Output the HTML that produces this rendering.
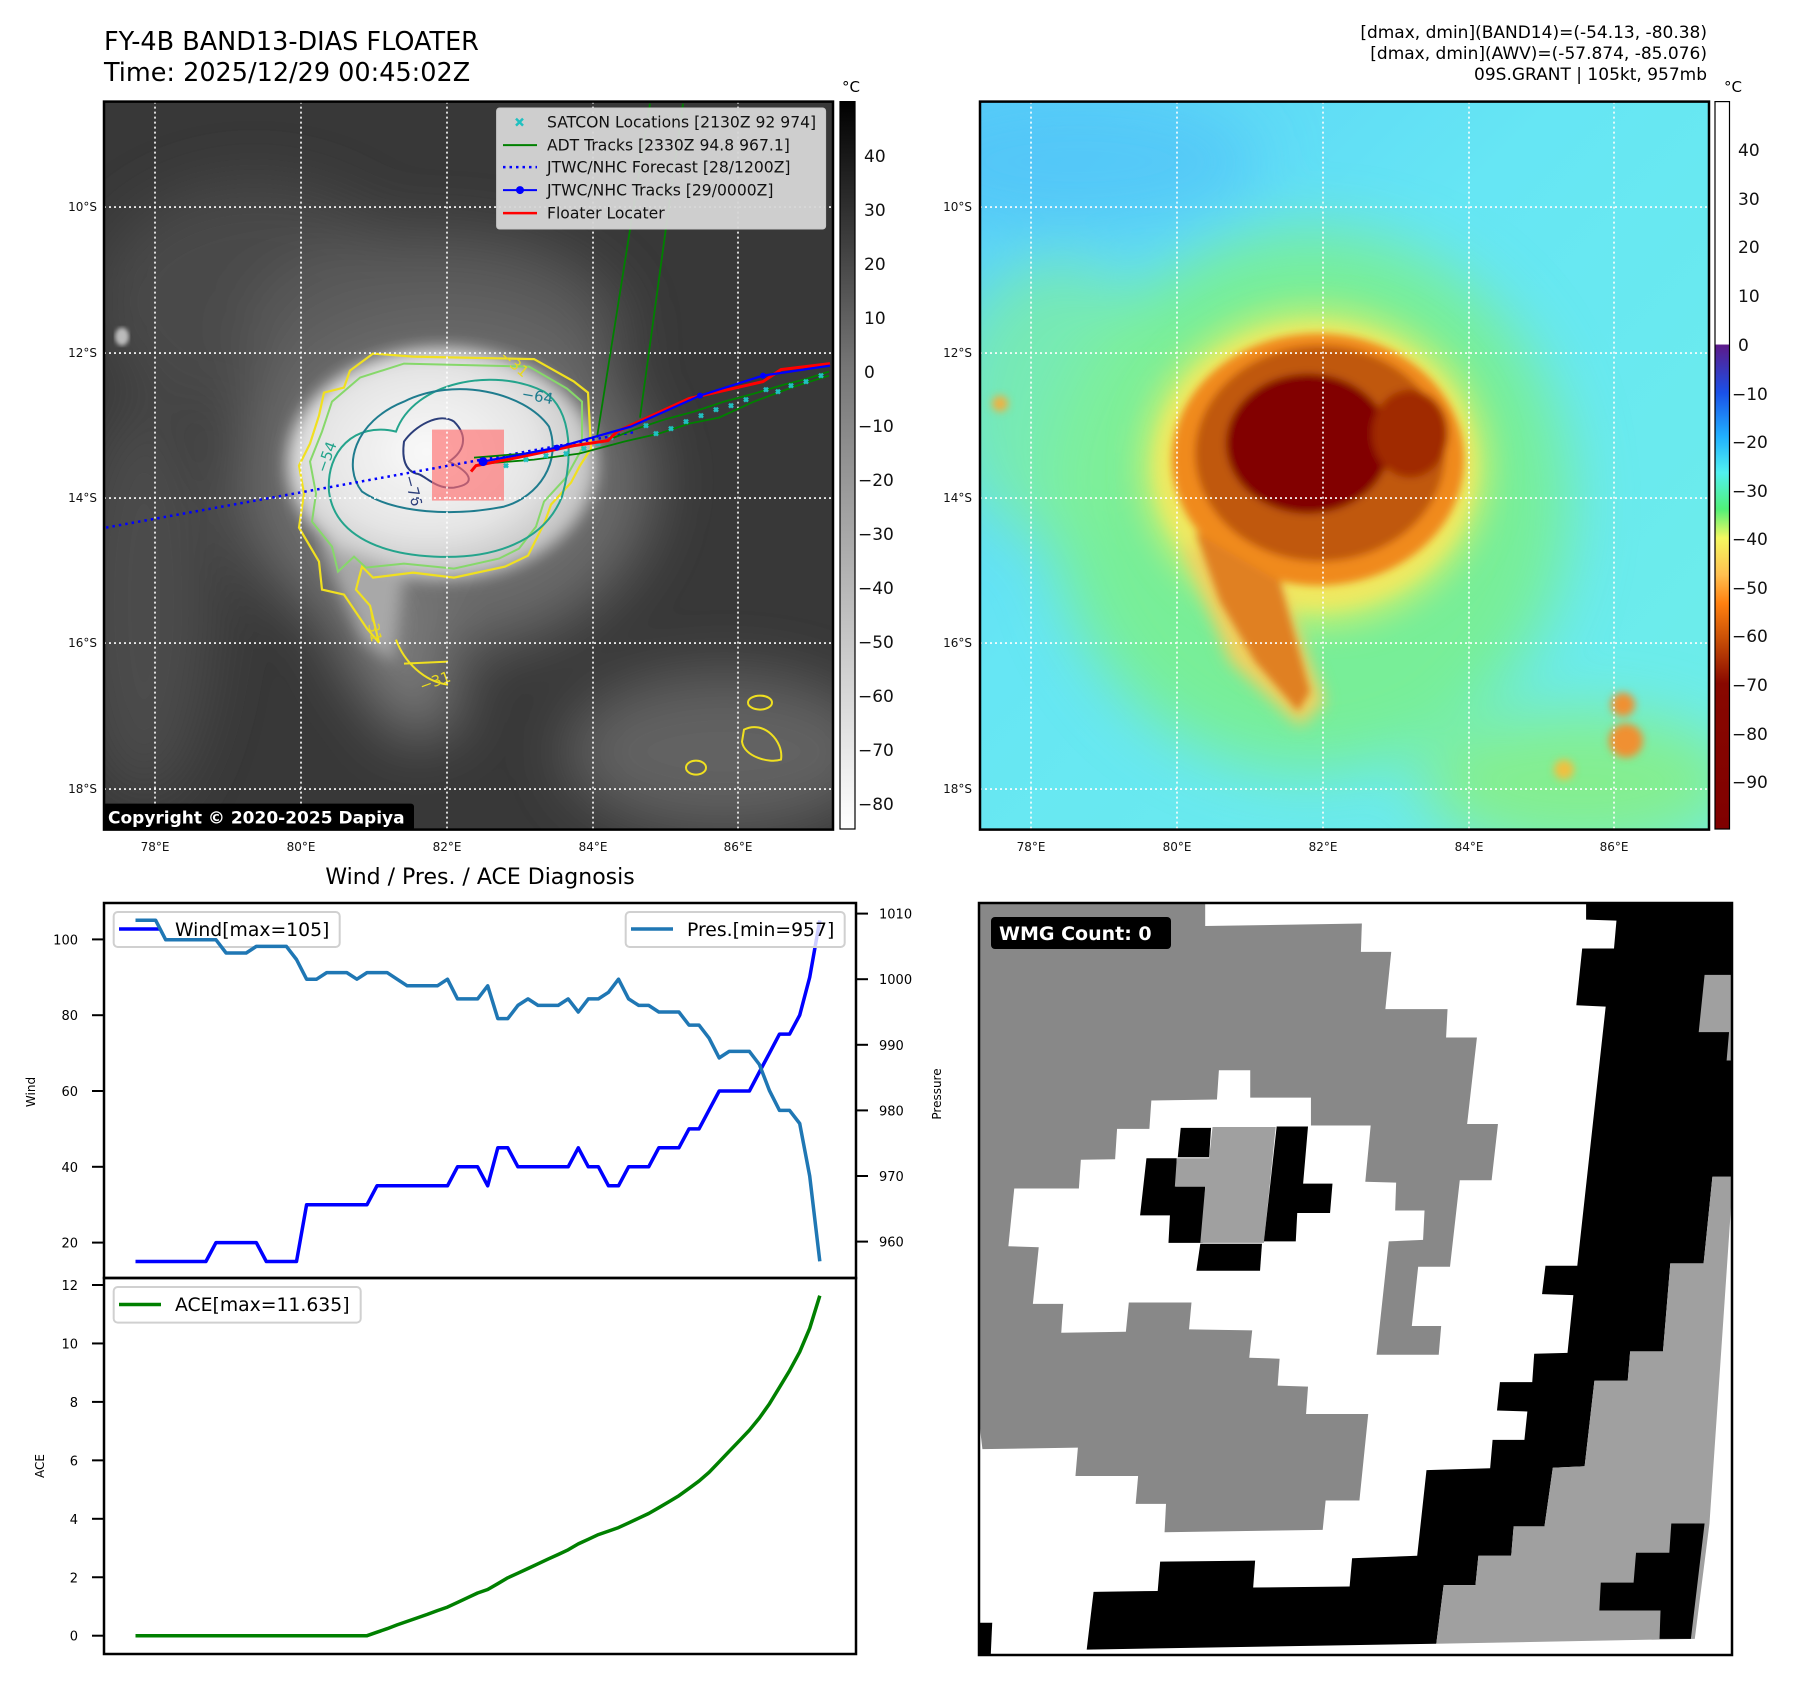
<!DOCTYPE html>
<html><head><meta charset="utf-8">
<style>
html,body{margin:0;padding:0;background:#fff;}
body{width:1797px;height:1690px;position:relative;overflow:hidden;font-family:"DejaVu Sans","Liberation Sans",sans-serif;}
svg{position:absolute;left:0;top:0;}
</style></head>
<body>
<svg id="main" width="1797" height="1690" viewBox="0 0 1797 1690" xmlns="http://www.w3.org/2000/svg" font-family="DejaVu Sans, Liberation Sans, sans-serif">
<defs>
  <filter id="b2"><feGaussianBlur stdDeviation="2"/></filter>
  <filter id="b4"><feGaussianBlur stdDeviation="4"/></filter>
  <filter id="b8"><feGaussianBlur stdDeviation="8"/></filter>
  <filter id="b16"><feGaussianBlur stdDeviation="16"/></filter>
  <filter id="b30"><feGaussianBlur stdDeviation="30"/></filter>
  <clipPath id="mapclip"><rect x="0" y="0" width="729" height="728"/></clipPath>
  <linearGradient id="graybar" x1="0" y1="0" x2="0" y2="1">
    <stop offset="0" stop-color="#000"/><stop offset="0.37" stop-color="#777"/><stop offset="1" stop-color="#fff"/>
  </linearGradient>
  <linearGradient id="colbar" x1="0" y1="0" x2="0" y2="1">
    <stop offset="0" stop-color="#fff"/><stop offset="0.333" stop-color="#fff"/>
    <stop offset="0.335" stop-color="#5c1a8a"/><stop offset="0.4" stop-color="#1a50e8"/>
    <stop offset="0.46" stop-color="#20b0ff"/><stop offset="0.51" stop-color="#50f0f0"/>
    <stop offset="0.56" stop-color="#50f078"/><stop offset="0.6" stop-color="#f4f860"/>
    <stop offset="0.65" stop-color="#ffc050"/><stop offset="0.69" stop-color="#ff8010"/>
    <stop offset="0.74" stop-color="#c84e06"/><stop offset="0.8" stop-color="#880800"/>
    <stop offset="1" stop-color="#800000"/>
  </linearGradient>
  <radialGradient id="irCore" cx="0.45" cy="0.45" r="0.6">
    <stop offset="0" stop-color="#fafafa"/><stop offset="0.6" stop-color="#e4e4e4"/><stop offset="1" stop-color="#b8b8b8"/>
  </radialGradient>
  <linearGradient id="rbg" x1="0" y1="0" x2="1" y2="1">
    <stop offset="0" stop-color="#58d0f8"/><stop offset="0.4" stop-color="#66e6f4"/><stop offset="1" stop-color="#6eeee8"/>
  </linearGradient>
</defs>

<!-- Titles -->
<text x="104" y="50" font-size="25.5">FY-4B BAND13-DIAS FLOATER</text>
<text x="104" y="81" font-size="25.5">Time: 2025/12/29 00:45:02Z</text>
<g font-size="17" text-anchor="end">
  <text x="1707" y="38">[dmax, dmin](BAND14)=(-54.13, -80.38)</text>
  <text x="1707" y="59">[dmax, dmin](AWV)=(-57.874, -85.076)</text>
  <text x="1707" y="80">09S.GRANT | 105kt, 957mb</text>
</g>

<!-- LEFT IR MAP -->
<g transform="translate(104,101.6)">
 <g clip-path="url(#mapclip)">
  <rect width="729" height="728" fill="#383838"/>
  <g filter="url(#b30)">
    <ellipse cx="150" cy="200" rx="160" ry="120" fill="#4a4a4a"/>
    <ellipse cx="620" cy="650" rx="160" ry="80" fill="#626262"/>
    <ellipse cx="40" cy="500" rx="70" ry="200" fill="#4c4c4c"/>
    <ellipse cx="330" cy="230" rx="190" ry="100" fill="#5a5a5a"/>
    <ellipse cx="340" cy="380" rx="210" ry="170" fill="#6a6a6a"/>
    <polygon points="220,450 320,470 360,620 300,640 240,560" fill="#7a7a7a"/>
  </g>
  <g filter="url(#b8)">
    <ellipse cx="338" cy="362" rx="155" ry="116" fill="url(#irCore)"/>
    <polygon points="215,440 300,470 290,560 260,540" fill="#a8a8a8"/>
  </g>
  <ellipse cx="18" cy="235" rx="7" ry="9" fill="#bbb" filter="url(#b2)"/>
  <!-- contours -->
  <path d="M246,269 L269,252 L309,255 L430,257.5 L470,280 L484,291 L487,347 L476,364 L467,381 L447,403 L441,420 L424,454 L401,465 L350,476 L309,471 L269,476 L258,465 L252,488 L266,504 L275,541 L263,527 L240,493 L218,488 L215,460 L195,426 L200,392 L195,364 L206,342 L215,314 L220,291 L240,286 Z" fill="none" stroke="#f0e020" stroke-width="2.2"/>
  <path d="M256,276 L300,262 L425,265 L463,287 L478,300 L478,347 L462,376 L440,400 L432,425 L415,447 L395,457 L350,467 L300,462 L262,466 L250,455 L234,470 L228,445 L208,420 L212,392 L206,360 L218,330 L228,300 Z" fill="none" stroke="#86d86a" stroke-width="2"/>
  <path d="M292,330 C310,280 390,265 440,290 C470,310 468,360 458,395 C440,440 390,458 330,455 C270,452 230,430 225,390 C222,350 250,320 292,330 Z" fill="none" stroke="#24a48c" stroke-width="2"/>
  <path d="M300,300 C350,275 420,290 445,325 C458,360 435,395 400,405 C350,415 290,412 258,390 C238,365 250,320 300,300 Z" fill="none" stroke="#1f7c8e" stroke-width="2"/>
  <path d="M300,340 C310,325 335,310 350,320 C365,335 360,350 345,360 C365,370 375,382 350,386 C330,388 320,372 312,372 C300,368 298,355 300,340 Z" fill="none" stroke="#2c3e7a" stroke-width="2"/>
  <path d="M292,538 C300,560 320,580 344,583 M344,560 L300,562" fill="none" stroke="#f0e020" stroke-width="2"/>
  <ellipse cx="656" cy="601" rx="12" ry="7" fill="none" stroke="#f0e020" stroke-width="2"/>
  <path d="M640,628 C660,618 680,640 677,658 C665,662 640,655 638,640 Z" fill="none" stroke="#f0e020" stroke-width="2"/>
  <ellipse cx="592" cy="666" rx="10" ry="7" fill="none" stroke="#f0e020" stroke-width="2"/>
  <g font-size="15" fill="#e8d820"><text x="395" y="256" transform="rotate(40 395 256)">−31</text><text x="262" y="510" transform="rotate(80 262 510)">−31</text><text x="318" y="590" transform="rotate(-20 318 590)">−31</text></g>
  <text x="417" y="297" font-size="15" fill="#1f7c8e" transform="rotate(10 417 297)">−64</text>
  <text x="300" y="375" font-size="15" fill="#2c3e7a" transform="rotate(75 300 375)">−76</text>
  <text x="222" y="372" font-size="15" fill="#24a48c" transform="rotate(-70 222 372)">−54</text>
  <rect x="328" y="328" width="72" height="71" fill="rgba(255,110,110,0.65)"/>
  <g stroke="#fff" stroke-width="1.6" stroke-dasharray="2,3">
    <line x1="51" y1="0" x2="51" y2="728"/><line x1="197" y1="0" x2="197" y2="728"/><line x1="343" y1="0" x2="343" y2="728"/><line x1="489" y1="0" x2="489" y2="728"/><line x1="634" y1="0" x2="634" y2="728"/>
    <line x1="0" y1="105.5" x2="729" y2="105.5"/><line x1="0" y1="251.5" x2="729" y2="251.5"/><line x1="0" y1="396.5" x2="729" y2="396.5"/><line x1="0" y1="541.5" x2="729" y2="541.5"/><line x1="0" y1="687.5" x2="729" y2="687.5"/>
  </g>
  <polyline points="2,426 533,330" fill="none" stroke="#0000ff" stroke-width="2.5" stroke-dasharray="2.5,4"/>
  <g stroke="#008000" stroke-width="1.8" fill="none">
    <line x1="493" y1="336" x2="546" y2="2"/><line x1="536" y1="316" x2="579" y2="2"/>
    <polyline points="370,356 420,352 460,345 500,340 530,328 560,318 590,310 620,300 650,292 680,283 700,278 725,270"/>
    <polyline points="380,362 430,358 475,352 520,340 555,332 585,322 615,316 650,300 690,285 725,274"/>
  </g>
  <g stroke="#20c0c0" stroke-width="2.5">
    <path d="M400,362 l4,4 m0,-4 l-4,4 M420,356 l4,4 m0,-4 l-4,4 M440,352 l4,4 m0,-4 l-4,4 M460,350 l4,4 m0,-4 l-4,4 M478,345 l4,4 m0,-4 l-4,4 M492,340 l4,4 m0,-4 l-4,4 M505,334 l4,4 m0,-4 l-4,4 M540,322 l4,4 m0,-4 l-4,4 M550,330 l4,4 m0,-4 l-4,4 M565,325 l4,4 m0,-4 l-4,4 M580,318 l4,4 m0,-4 l-4,4 M595,312 l4,4 m0,-4 l-4,4 M610,306 l4,4 m0,-4 l-4,4 M625,302 l4,4 m0,-4 l-4,4 M640,296 l4,4 m0,-4 l-4,4 M660,286 l4,4 m0,-4 l-4,4 M672,288 l4,4 m0,-4 l-4,4 M685,282 l4,4 m0,-4 l-4,4 M700,278 l4,4 m0,-4 l-4,4 M715,272 l4,4 m0,-4 l-4,4"/>
  </g>
  <polyline points="367,370 372,364 413,356 470,344 504,339 513,330 585,297 659,280 677,268 726,262" fill="none" stroke="#ff0000" stroke-width="3"/>
  <polyline points="379,360 453,346 527,325 596,294 659,274 726,264" fill="none" stroke="#0000ff" stroke-width="2.2"/>
  <g fill="#0000ff"><circle cx="379" cy="360" r="4.5"/><circle cx="453" cy="346" r="3"/><circle cx="596" cy="294" r="3"/><circle cx="659" cy="274" r="3"/></g>
  <rect x="-2" y="702" width="312" height="27" rx="3" fill="#000"/>
  <text x="4" y="722" font-size="17" font-weight="bold" fill="#fff">Copyright © 2020-2025 Dapiya</text>
 </g>
 <rect width="729" height="728" fill="none" stroke="#000" stroke-width="2.5"/>
 <g>
  <rect x="392.6" y="6.4" width="329" height="121" rx="3" fill="#d6d6d6" fill-opacity="0.95" stroke="#c8c8c8"/>
  <g font-size="15.6" fill="#111">
   <path d="M412,17 l7,7 m0,-7 l-7,7" stroke="#20c0c0" stroke-width="2.5"/>
   <text x="443" y="26">SATCON Locations [2130Z 92 974]</text>
   <line x1="399" y1="43.5" x2="433" y2="43.5" stroke="#008000" stroke-width="2"/>
   <text x="443" y="49">ADT Tracks [2330Z 94.8 967.1]</text>
   <line x1="399" y1="65.5" x2="433" y2="65.5" stroke="#0000ff" stroke-width="2.5" stroke-dasharray="2.5,4"/>
   <text x="443" y="71">JTWC/NHC Forecast [28/1200Z]</text>
   <line x1="399" y1="88.5" x2="433" y2="88.5" stroke="#0000ff" stroke-width="2"/><circle cx="416" cy="88.5" r="4" fill="#0000ff"/>
   <text x="443" y="94">JTWC/NHC Tracks [29/0000Z]</text>
   <line x1="399" y1="111.5" x2="433" y2="111.5" stroke="#ff0000" stroke-width="2.5"/>
   <text x="443" y="117">Floater Locater</text>
  </g>
 </g>
</g>
<g font-size="12" fill="#111">
  <g text-anchor="end"><text x="97" y="211">10°S</text><text x="97" y="357">12°S</text><text x="97" y="502">14°S</text><text x="97" y="647">16°S</text><text x="97" y="793">18°S</text></g>
  <g text-anchor="middle"><text x="155" y="851">78°E</text><text x="301" y="851">80°E</text><text x="447" y="851">82°E</text><text x="593" y="851">84°E</text><text x="738" y="851">86°E</text></g>
</g>
<g>
  <rect x="840" y="101.6" width="15" height="727.4" fill="url(#graybar)" stroke="#000" stroke-width="1.2"/>
  <text x="851" y="92" font-size="15" text-anchor="middle">°C</text>
  <g font-size="17" fill="#111">
   <text x="864" y="162">40</text><text x="864" y="216">30</text><text x="864" y="270">20</text><text x="864" y="324">10</text><text x="864" y="378">0</text>
   <text x="858" y="432">−10</text><text x="858" y="486">−20</text><text x="858" y="540">−30</text><text x="858" y="594">−40</text><text x="858" y="648">−50</text><text x="858" y="702">−60</text><text x="858" y="756">−70</text><text x="858" y="810">−80</text>
  </g>
</g>

<!-- RIGHT COLOR MAP -->
<g transform="translate(980,101.6)">
 <g clip-path="url(#mapclip)">
  <rect width="729" height="728" fill="url(#rbg)"/>
  <g filter="url(#b30)">
    <ellipse cx="100" cy="60" rx="180" ry="70" fill="#50c0f8" opacity="0.6"/>
    <ellipse cx="330" cy="400" rx="260" ry="270" fill="#78ee98"/>
    <ellipse cx="80" cy="300" rx="110" ry="140" fill="#80f098" opacity="0.7"/>
    <ellipse cx="600" cy="680" rx="160" ry="70" fill="#84ee90"/>
  </g>
  <g filter="url(#b16)">
    <ellipse cx="335" cy="365" rx="175" ry="160" fill="#c8f070"/>
  </g>
  <g filter="url(#b8)">
    <ellipse cx="335" cy="365" rx="160" ry="142" fill="#f0e860"/>
    <polygon points="200,440 300,480 345,600 320,625 250,560" fill="#f0d060"/>
  </g>
  <g filter="url(#b4)">
    <ellipse cx="338" cy="358" rx="146" ry="126" fill="#f08a1a"/>
    <polygon points="215,430 300,480 330,590 318,610 275,560 240,500" fill="#e08020"/>
    <ellipse cx="340" cy="352" rx="125" ry="108" fill="#c05808"/>
    <ellipse cx="328" cy="342" rx="82" ry="70" fill="#820400"/>
    <ellipse cx="430" cy="332" rx="38" ry="44" fill="#a02a04"/>
    <circle cx="643" cy="603" r="12" fill="#f09030"/><circle cx="646" cy="639" r="17" fill="#f09030"/>
    <circle cx="20" cy="302" r="8" fill="#f0b040"/>
    <circle cx="584" cy="668" r="10" fill="#f0c040"/>
  </g>
  <g stroke="#fff" stroke-width="1.6" stroke-dasharray="2,3">
    <line x1="51" y1="0" x2="51" y2="728"/><line x1="197" y1="0" x2="197" y2="728"/><line x1="343" y1="0" x2="343" y2="728"/><line x1="489" y1="0" x2="489" y2="728"/><line x1="634" y1="0" x2="634" y2="728"/>
    <line x1="0" y1="105.5" x2="729" y2="105.5"/><line x1="0" y1="251.5" x2="729" y2="251.5"/><line x1="0" y1="396.5" x2="729" y2="396.5"/><line x1="0" y1="541.5" x2="729" y2="541.5"/><line x1="0" y1="687.5" x2="729" y2="687.5"/>
  </g>
 </g>
 <rect width="729" height="728" fill="none" stroke="#000" stroke-width="2.5"/>
</g>
<g font-size="12" fill="#111">
  <g text-anchor="end"><text x="972" y="211">10°S</text><text x="972" y="357">12°S</text><text x="972" y="502">14°S</text><text x="972" y="647">16°S</text><text x="972" y="793">18°S</text></g>
  <g text-anchor="middle"><text x="1031" y="851">78°E</text><text x="1177" y="851">80°E</text><text x="1323" y="851">82°E</text><text x="1469" y="851">84°E</text><text x="1614" y="851">86°E</text></g>
</g>
<g>
  <rect x="1715" y="101.6" width="14.5" height="727.4" fill="url(#colbar)" stroke="#000" stroke-width="1.2"/>
  <text x="1733" y="92" font-size="15" text-anchor="middle">°C</text>
  <g font-size="17" fill="#111">
   <text x="1738" y="156">40</text><text x="1738" y="205">30</text><text x="1738" y="253">20</text><text x="1738" y="302">10</text><text x="1738" y="351">0</text>
   <text x="1732" y="400">−10</text><text x="1732" y="448">−20</text><text x="1732" y="497">−30</text><text x="1732" y="545">−40</text><text x="1732" y="594">−50</text><text x="1732" y="642">−60</text><text x="1732" y="691">−70</text><text x="1732" y="740">−80</text><text x="1732" y="788">−90</text>
  </g>
</g>

<!-- WMG PANEL -->
<g>
 <svg x="979" y="903" width="753" height="752" viewBox="8 8 1538 1538" preserveAspectRatio="none">
  <rect x="8" y="8" width="1538" height="1538" fill="#fff"/>
  <polygon fill="#888" points="8,8 470,8 470,55 790,50 788,108 850,108 838,225 965,225 962,283 1025,283 1005,460 1068,460 1055,575 990,575 970,752 905,752 892,873 952,873 947,932 820,932 845,700 915,697 918,637 858,637 860,580 797,578 808,463 686,463 686,406 562,406 562,350 498,350 494,410 360,412 356,470 290,470 286,532 216,533 212,592 80,592 68,710 130,712 118,828 180,828 176,887 308,885 314,825 442,825 437,880 566,882 560,938 622,940 618,995 680,997 676,1053 803,1053 785,1230 716,1230 710,1290 387,1295 390,1237 328,1237 333,1180 205,1180 210,1122 15,1125 8,1066"/>
  <polygon fill="#000" points="1248,8 1546,8 1546,568 1506,568 1488,745 1420,745 1405,925 1338,925 1333,985 1265,985 1245,1160 1180,1163 1163,1283 1100,1283 1095,1343 1028,1343 1022,1403 957,1403 942,1523 228,1535 242,1417 373,1415 378,1355 572,1353 568,1408 765,1406 770,1348 903,1343 922,1168 1052,1164 1057,1106 1122,1106 1128,1048 1066,1046 1072,988 1138,988 1142,930 1210,928 1222,810 1158,808 1165,750 1230,750 1288,220 1228,217 1240,101 1305,101 1310,44 1248,42"/>
  <polygon fill="#a0a0a0" points="1506,568 1546,568 1546,600 1500,1277 1470,1513 942,1523 957,1403 1022,1403 1028,1343 1095,1343 1100,1283 1163,1283 1180,1163 1245,1160 1265,985 1333,985 1338,925 1405,925 1420,745 1488,745"/>
  <polygon fill="#a0a0a0" points="1490,155 1546,155 1546,330 1535,330 1540,272 1478,272"/>
  <polygon fill="#000" points="1422,1277 1490,1277 1462,1513 1398,1513 1400,1455 1275,1455 1278,1398 1345,1398 1350,1337 1418,1337"/>
  <polygon fill="#000" points="8,1480 35,1480 32,1546 8,1546"/>
  <polygon fill="#000" points="420,468 482,468 478,528 414,528"/>
  <polygon fill="#000" points="350,530 412,530 410,588 470,588 465,703 395,703 398,647 337,647"/>
  <polygon fill="#a0a0a0" points="485,466 614,466 590,703 460,703 470,588 408,588 412,530 478,530"/>
  <polygon fill="#000" points="616,465 680,465 670,582 730,582 725,642 658,642 655,700 590,700"/>
  <polygon fill="#000" points="460,705 586,705 582,760 452,760"/>
 </svg>
 <rect x="979" y="903" width="753" height="752" fill="none" stroke="#000" stroke-width="2.5"/>
 <rect x="991" y="917" width="180" height="32" rx="4" fill="#000"/>
 <text x="999" y="940" font-size="19" font-weight="bold" fill="#fff">WMG Count: 0</text>
</g>

<!-- DIAGNOSIS CHART -->
<text x="480" y="884" font-size="22" text-anchor="middle">Wind / Pres. / ACE Diagnosis</text>
<g id="chart"></g>
</svg>

<script>
const windValues = [15,15,15,15,15,15,15,15,20,20,20,20,20,15,15,15,15,30,30,30,30,30,30,30,35,35,35,35,35,35,35,35,40,40,40,35,45,45,40,40,40,40,40,40,45,40,40,35,35,40,40,40,45,45,45,50,50,55,60,60,60,60,65,70,75,75,80,90,105];
const presValues = [1009,1009,1009,1006,1006,1006,1006,1006,1006,1004,1004,1004,1005,1005,1005,1005,1003,1000,1000,1001,1001,1001,1000,1001,1001,1001,1000,999,999,999,999,1000,997,997,997,999,994,994,996,997,996,996,996,997,995,997,997,998,1000,997,996,996,995,995,995,993,993,991,988,989,989,989,987,983,980,980,978,970,957];
const aceValues = [0,0,0,0,0,0,0,0,0,0,0,0,0,0,0,0,0,0,0,0,0,0,0,0,0.12,0.24,0.37,0.49,0.61,0.73,0.86,0.98,1.14,1.30,1.46,1.58,1.78,1.98,2.14,2.30,2.46,2.62,2.78,2.94,3.14,3.30,3.46,3.58,3.70,3.86,4.02,4.18,4.38,4.58,4.79,5.04,5.29,5.59,5.95,6.31,6.67,7.03,7.45,7.94,8.50,9.07,9.71,10.52,11.635];
const windTicks = [20,40,60,80,100];
const presTicks = [960,970,980,990,1000,1010];
const aceTicks = [0,2,4,6,8,10,12];

const NS = 'http://www.w3.org/2000/svg';
const chart = document.getElementById('chart');
const n = windValues.length;
function xOf(i){ return 135.5 + i * (819.8 - 135.5) / (n - 1); }
function windY(v){ return 939.4 + (100 - v) * (1242.6 - 939.4) / 80; }
function presY(p){ return 913.6 + (1010 - p) * (1241.6 - 913.6) / 50; }
function aceY(a){ return 1635.7 - a * (1635.7 - 1285) / 12; }
function mk(tag, attrs, parent){
  const e = document.createElementNS(NS, tag);
  for (const k in attrs) e.setAttribute(k, attrs[k]);
  (parent || chart).appendChild(e);
  return e;
}
function pts(arr, yf){ return arr.map((v,i)=>xOf(i).toFixed(1)+','+yf(v).toFixed(1)).join(' '); }

const frameTop = mk('rect',{x:104,y:903,width:752,height:375,fill:'none',stroke:'#000','stroke-width':2.5});


const frameBot = mk('rect',{x:104,y:1278,width:752,height:376,fill:'none',stroke:'#000','stroke-width':2.5});



windTicks.forEach(t=>{
  const y = windY(t);
  const l = mk('line',{x1:92,y1:y,x2:104,y2:y,stroke:'#000','stroke-width':2});
  
  
  const tx = mk('text',{x:78,y:y+5,'font-size':13,'text-anchor':'end'});
  
  
  tx.textContent = t;
});
presTicks.forEach(t=>{
  const y = presY(t);
  const l = mk('line',{x1:856,y1:y,x2:868,y2:y,stroke:'#000','stroke-width':2});
  
  
  const tx = mk('text',{x:879,y:y+5,'font-size':13});
  
  
  tx.textContent = t;
});
aceTicks.forEach(t=>{
  const y = aceY(t);
  const l = mk('line',{x1:92,y1:y,x2:104,y2:y,stroke:'#000','stroke-width':2});
  
  
  const tx = mk('text',{x:78,y:y+5,'font-size':13,'text-anchor':'end'});
  
  
  tx.textContent = t;
});

const yt1 = mk('text',{x:0,y:0,'font-size':12,'text-anchor':'middle',transform:'translate(35,1092) rotate(-90)'});


yt1.textContent = 'Wind';
const yt2 = mk('text',{x:0,y:0,'font-size':12,'text-anchor':'middle',transform:'translate(941,1094) rotate(-90)'});


yt2.textContent = 'Pressure';
const yt3 = mk('text',{x:0,y:0,'font-size':12,'text-anchor':'middle',transform:'translate(44,1466) rotate(-90)'});


yt3.textContent = 'ACE';

const wl = mk('polyline',{points:pts(windValues,windY),fill:'none',stroke:'#0000ff','stroke-width':3.5,'stroke-linejoin':'round'});



const wlb = mk('rect',{x:113.7,y:912,width:226,height:35,rx:4,fill:'#fff','fill-opacity':0.8,stroke:'#d0d0d0','stroke-width':2});


mk('line',{x1:119,y1:929,x2:161,y2:929,stroke:'#0000ff','stroke-width':3.5});
const wlt = mk('text',{x:175,y:936,'font-size':18.8});


wlt.textContent = 'Wind[max=105]';

const pl = mk('polyline',{points:pts(presValues,presY),fill:'none',stroke:'#1f77b4','stroke-width':3.5,'stroke-linejoin':'round'});



const plb = mk('rect',{x:625.7,y:912,width:219,height:35,rx:4,fill:'#fff','fill-opacity':0.8,stroke:'#d0d0d0','stroke-width':2});


mk('line',{x1:631,y1:929,x2:673,y2:929,stroke:'#1f77b4','stroke-width':3.5});
const plt = mk('text',{x:687,y:936,'font-size':18.8});


plt.textContent = 'Pres.[min=957]';

const al = mk('polyline',{points:pts(aceValues,aceY),fill:'none',stroke:'#008000','stroke-width':3.5,'stroke-linejoin':'round'});


const alb = mk('rect',{x:113.7,y:1287,width:247,height:35.6,rx:4,fill:'#fff','fill-opacity':0.8,stroke:'#d0d0d0','stroke-width':2});


mk('line',{x1:119,y1:1304.5,x2:161,y2:1304.5,stroke:'#008000','stroke-width':3.5});
const alt = mk('text',{x:175,y:1311,'font-size':18.8});


alt.textContent = 'ACE[max=11.635]';
</script>
</body></html>
